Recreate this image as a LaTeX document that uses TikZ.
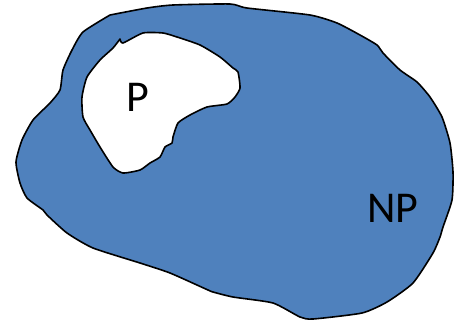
\documentclass[tikz,border=0pt]{standalone}
\usepackage{fontspec}
\setmainfont{Carlito}
\definecolor{blobblue}{HTML}{4F81BD}
\tikzset{
  blob/.style={fill=blobblue, draw=black, line width=1.6pt, line join=round, even odd rule},
  lbl/.style={font=\fontsize{44}{44}\selectfont, inner sep=0pt, text=black}
}
\begin{document}
\begin{tikzpicture}[x=1pt,y=-1pt]
\useasboundingbox (0,0) rectangle (454,322);
\path[blob]
 plot[smooth, tension=0.35] coordinates {
 (110,15) (147,8) (173,5) (230,4) (247,8) (310,15) (337,23) (360,35) (377,45) (383,53)
 (400,70) (417,82) (430,97) (442,117) (450,143) (453,172) (452,200) (443,227) (440,237)
 (433,253) (413,283) (387,302) (362,313) (313,319) (300,317) (273,303) (233,297)
 (213,292) (208,290) (170,273) (140,263) (93,248) (67,233) (47,215) (43,210) (27,198)
 (20,183) (16,162) (22,140) (33,120) (50,103) (60,90) (63,70) (72,50) (83,32) (110,15)}
 -- cycle
 plot[smooth, tension=0.35] coordinates {
 (120,39) (123,43) (143,33) (163,33) (177,37) (200,45) (220,57) (233,68) (238,72)
 (240,88) (235,97) (227,104) (207,107) (190,115) (178,123) (173,137) (172,143)
 (165,147) (160,157) (150,163) (140,170) (123,173) (113,167) (100,147) (90,130)
 (83,117) (82,97) (87,77) (100,60) (113,48) (120,39)}
 -- cycle;
\node[lbl] (p) at (138,97) {P};
\node[lbl] (np) at (393,208) {NP};
\end{tikzpicture}
\end{document}
